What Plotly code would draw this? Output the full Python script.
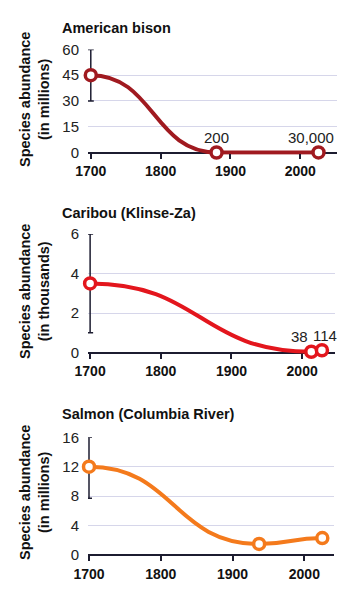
import plotly.graph_objects as go

# The page body has an 8px default margin; the figure is sized to fit the window.
PAGE_W, PAGE_H, OFF = 357, 592, 8
W, H = PAGE_W - 2 * OFF, PAGE_H - 2 * OFF

# ---------------- data ----------------
x_ticks = [1700, 1800, 1900, 2000]

bison_years = [1700, 1880, 2026]
bison_values = [45, 0.0002, 0.03]          # millions
bison_err_plus = [15, 0, 0]
bison_err_minus = [15, 0, 0]
bison_labels = ["", "200", "30,000"]
bison_yticks = [0, 15, 30, 45, 60]

caribou_years = [1700, 2013, 2028]
caribou_values = [3.5, 0.038, 0.114]       # thousands
caribou_err_plus = [2.5, 0, 0]
caribou_err_minus = [2.5, 0, 0]
caribou_labels = ["", "38", "114"]
caribou_yticks = [0, 2, 4, 6]

salmon_years = [1700, 1937, 2025]
salmon_values = [12, 1.5, 2.3]             # millions
salmon_err_plus = [4, 0, 0]
salmon_err_minus = [4.3, 0, 0]
salmon_labels = ["", "", ""]
salmon_yticks = [0, 4, 8, 12, 16]

titles = ["American bison", "Caribou (Klinse-Za)", "Salmon (Columbia River)"]
units = ["(in millions)", "(in thousands)", "(in millions)"]

# ---------------- styling / geometry (page pixel coordinates) ----------------
FONT = "Liberation Sans"
AXIS_COLOR = "#1c1c30"
GRID_COLOR = "#d6d6ea"
TEXT_COLOR = "#222222"

panels = [
    dict(years=bison_years, values=bison_values, ep=bison_err_plus, em=bison_err_minus,
         labels=bison_labels, yticks=bison_yticks, color="#a01a20",
         x_px=(88, 337), xrange=(1696, 2052.5),
         top_px=49.4, zero_px=152.5, below=1.3,
         title_y=28, ytitle_y=100,
         label_shift=[(0, 0), (0, 15), (-7, 15)]),
    dict(years=caribou_years, values=caribou_values, ep=caribou_err_plus, em=caribou_err_minus,
         labels=caribou_labels, yticks=caribou_yticks, color="#e3161d",
         x_px=(88, 335), xrange=(1697, 2046.5),
         top_px=234, zero_px=352.5, below=0.11,
         title_y=213, ytitle_y=292,
         label_shift=[(0, 0), (-12, 15), (3, 15)]),
    dict(years=salmon_years, values=salmon_values, ep=salmon_err_plus, em=salmon_err_minus,
         labels=salmon_labels, yticks=salmon_yticks, color="#f47a1c",
         x_px=(88, 334), xrange=(1698.6, 2041.3),
         top_px=437.3, zero_px=555, below=0.3,
         title_y=414, ytitle_y=493,
         label_shift=[(0, 0), (0, 0), (0, 0)]),
]


def fx(px):
    return (px - OFF) / W


def fy(py):
    return 1 - (py - OFF) / H


def bump_path(xs, ys):
    p = f"M {xs[0]},{ys[0]}"
    for i in range(1, len(xs)):
        xm = (xs[i - 1] + xs[i]) / 2
        p += f" C {xm},{ys[i - 1]} {xm},{ys[i]} {xs[i]},{ys[i]}"
    return p


fig = go.Figure()
layout = dict(
    width=W, height=H,
    margin=dict(l=0, r=0, t=0, b=0, pad=0, autoexpand=False),
    paper_bgcolor="white", plot_bgcolor="white",
    showlegend=False,
    shapes=[], annotations=[],
)

for i, p in enumerate(panels):
    n = "" if i == 0 else str(i + 1)
    xa, ya = "x" + n, "y" + n
    ymax = p["yticks"][-1]
    px_per_unit = (p["zero_px"] - p["top_px"]) / ymax
    bottom_px = p["zero_px"] + p["below"] * px_per_unit
    ydom = [fy(bottom_px), fy(p["top_px"])]
    xdom = [fx(p["x_px"][0]), fx(p["x_px"][1])]

    layout["xaxis" + n] = dict(
        domain=xdom, range=list(p["xrange"]), anchor="free",
        position=fy(p["zero_px"]), automargin=False,
        tickvals=x_ticks, ticks="outside", ticklen=5, tickwidth=1.5, tickcolor=AXIS_COLOR,
        showline=False, showgrid=False, zeroline=False,
        tickfont=dict(family=FONT, size=14, color="#111", weight="bold"),
        ticklabelstandoff=1,
    )
    layout["yaxis" + n] = dict(
        domain=ydom, range=[-p["below"], ymax], anchor=xa, automargin=False,
        tickvals=p["yticks"], ticks="", showline=False,
        showgrid=True, gridcolor=GRID_COLOR, gridwidth=1,
        zeroline=True, zerolinecolor=AXIS_COLOR, zerolinewidth=2,
        tickfont=dict(family=FONT, size=15, color=TEXT_COLOR),
        ticklabelstandoff=8,
    )

    # smooth connecting line
    layout["shapes"].append(dict(
        type="path", path=bump_path(p["years"], p["values"]),
        xref=xa, yref=ya, layer="between",
        line=dict(color=p["color"], width=4),
    ))

    # error bars
    fig.add_trace(go.Scatter(
        x=p["years"], y=p["values"], xaxis=xa, yaxis=ya, mode="markers",
        marker=dict(size=1, opacity=0), cliponaxis=False, hoverinfo="skip",
        error_y=dict(type="data", symmetric=False, array=p["ep"], arrayminus=p["em"],
                     color=AXIS_COLOR, thickness=1.5, width=3),
    ))
    # open circle markers
    fig.add_trace(go.Scatter(
        x=p["years"], y=p["values"], xaxis=xa, yaxis=ya, mode="markers",
        marker=dict(symbol="circle", size=11, color="white",
                    line=dict(color=p["color"], width=3.5)),
        cliponaxis=False,
    ))

    # value labels
    for xv, yv, lab, (dx, dy) in zip(p["years"], p["values"], p["labels"], p["label_shift"]):
        if lab:
            layout["annotations"].append(dict(
                x=xv, y=yv, xref=xa, yref=ya, text=lab, showarrow=False,
                xanchor="center", yanchor="middle", xshift=dx, yshift=dy,
                font=dict(family=FONT, size=15, color=TEXT_COLOR),
            ))

    # panel title
    layout["annotations"].append(dict(
        x=fx(60), y=fy(p["title_y"]), xref="paper", yref="paper",
        text=titles[i], showarrow=False, xanchor="left", yanchor="middle",
        font=dict(family=FONT, size=14.5, color="#111", weight="bold"),
    ))
    # y axis title
    layout["annotations"].append(dict(
        x=fx(34), y=fy(p["ytitle_y"]), xref="paper", yref="paper",
        text="Species abundance<br>" + units[i], showarrow=False, textangle=-90,
        xanchor="center", yanchor="middle",
        font=dict(family=FONT, size=14.5, color="#111", weight="bold"),
    ))

fig.update_layout(**layout)
fig.write_html("out.html")
